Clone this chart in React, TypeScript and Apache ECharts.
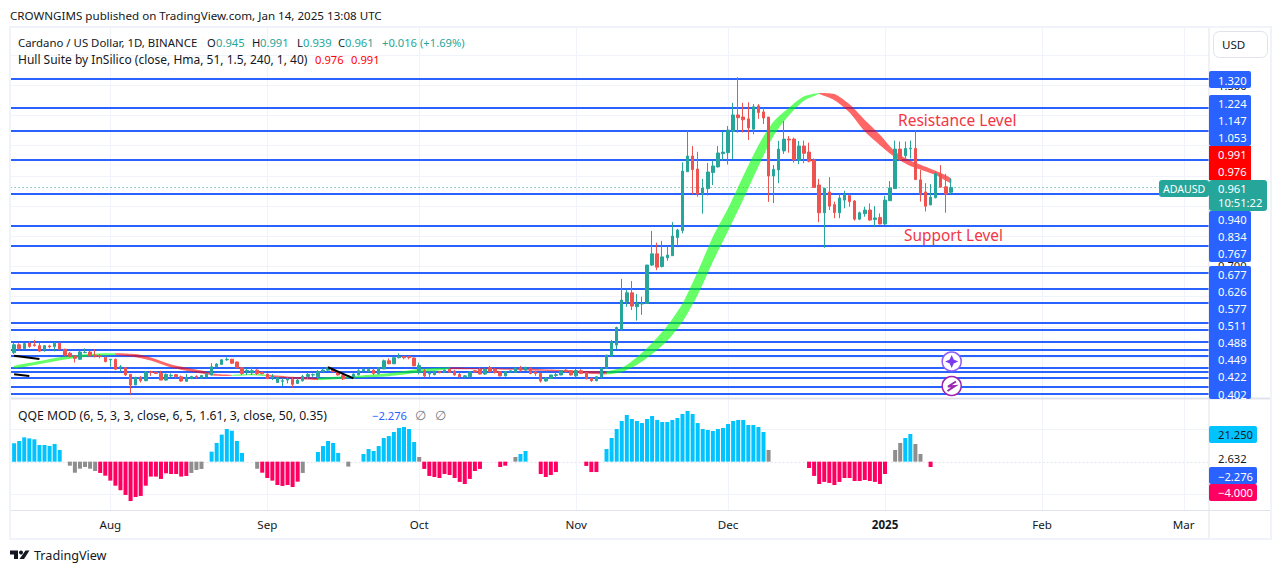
import React, { useEffect, useRef } from "react";
import * as echarts from "echarts";

const FONT = '"Noto Sans", sans-serif';
const NUM = `11.2px ${FONT}`;
const UP = "#26a69a";
const DOWN = "#ef5350";
const BLUE = "#2962ff";

const START = Date.UTC(2024, 6, 13);
const SLOTS = 237;
const categories: string[] = Array.from({ length: SLOTS }, (_, i) =>
  new Date(START + i * 86400000).toISOString().slice(0, 10)
);
const monthTicks: Record<string, string> = {
  "2024-08-01": "Aug",
  "2024-09-01": "Sep",
  "2024-10-01": "Oct",
  "2024-11-01": "Nov",
  "2024-12-01": "Dec",
  "2025-01-01": "2025",
  "2025-02-01": "Feb",
  "2025-03-01": "Mar",
};

// open, close, low, high
const candles: number[][] = [
  [.414,.440,.409,.447],[.440,.427,.425,.445],[.427,.444,.426,.444],[.446,.434,.430,.452],[.440,.437,.434,.456],
  [.437,.419,.417,.447],[.423,.437,.417,.439],[.436,.433,.428,.440],[.434,.445,.418,.448],[.445,.425,.423,.448],
  [.425,.406,.403,.427],[.412,.401,.398,.416],[.401,.395,.381,.406],[.392,.416,.390,.420],[.414,.415,.412,.428],
  [.416,.403,.401,.420],[.406,.402,.398,.425],[.403,.401,.395,.409],[.398,.384,.382,.403],[.390,.392,.367,.392],
  [.392,.359,.356,.394],[.365,.367,.351,.373],[.364,.340,.337,.364],[.342,.307,.276,.342],[.307,.332,.307,.334],
  [.332,.321,.315,.337],[.321,.350,.319,.353],[.351,.348,.337,.354],[.349,.345,.343,.351],[.345,.323,.323,.354],
  [.323,.342,.321,.345],[.337,.339,.332,.345],[.341,.334,.329,.343],[.334,.320,.317,.338],[.319,.332,.317,.343],
  [.328,.335,.326,.337],[.335,.332,.329,.339],[.331,.338,.328,.340],[.333,.344,.332,.345],[.340,.367,.339,.379],
  [.367,.376,.365,.379],[.375,.390,.373,.393],[.390,.392,.387,.398],[.392,.379,.376,.393],[.383,.364,.362,.384],
  [.364,.345,.340,.367],[.353,.355,.340,.362],[.347,.354,.340,.367],[.356,.345,.340,.359],[.349,.344,.342,.351],
  [.343,.328,.326,.345],[.331,.335,.323,.343],[.315,.331,.315,.332],[.319,.321,.303,.329],[.323,.326,.312,.334],
  [.326,.309,.299,.332],[.312,.323,.310,.329],[.321,.335,.318,.340],[.335,.342,.326,.348],[.340,.341,.334,.345],
  [.334,.351,.323,.356],[.352,.356,.350,.361],[.356,.365,.354,.367],[.359,.351,.349,.361],[.351,.340,.338,.353],
  [.338,.327,.323,.343],[.332,.337,.329,.339],[.329,.343,.327,.345],[.340,.354,.339,.359],[.354,.359,.351,.361],
  [.351,.358,.348,.362],[.356,.345,.340,.362],[.344,.364,.342,.366],[.360,.387,.359,.391],[.387,.377,.376,.395],
  [.377,.397,.376,.400],[.397,.400,.395,.412],[.401,.397,.392,.403],[.401,.398,.392,.403],[.396,.370,.370,.398],
  [.348,.371,.342,.381],[.354,.337,.332,.359],[.343,.345,.332,.351],[.341,.352,.339,.354],[.351,.348,.345,.353],
  [.349,.356,.348,.358],[.359,.349,.348,.365],[.353,.340,.338,.356],[.342,.334,.332,.348],[.334,.337,.331,.340],
  [.334,.350,.332,.352],[.354,.350,.348,.356],[.359,.343,.342,.365],[.343,.359,.340,.362],[.364,.351,.349,.370],
  [.359,.348,.345,.362],[.351,.337,.335,.353],[.337,.351,.335,.353],[.351,.354,.348,.356],[.349,.363,.348,.365],
  [.364,.356,.351,.370],[.356,.365,.354,.367],[.362,.345,.342,.365],[.350,.345,.337,.354],[.345,.320,.315,.347],
  [.320,.330,.318,.332],[.328,.340,.327,.340],[.338,.341,.329,.348],[.340,.354,.339,.356],[.356,.351,.348,.362],
  [.354,.340,.338,.356],[.337,.355,.332,.360],[.354,.345,.343,.359],[.348,.327,.326,.349],[.329,.321,.317,.331],
  [.321,.334,.319,.336],[.332,.362,.329,.365],[.362,.406,.362,.406],[.403,.450,.403,.456],[.439,.497,.425,.500],
  [.491,.588,.487,.658],[.583,.612,.566,.623],[.612,.568,.555,.651],[.566,.577,.520,.608],[.575,.577,.539,.599],
  [.577,.704,.575,.704],[.704,.741,.701,.817],[.741,.697,.687,.778],[.699,.731,.696,.784],[.728,.737,.718,.765],
  [.735,.800,.734,.846],[.795,.820,.767,.824],[.818,1.015,.809,1.044],[1.013,1.065,1.013,1.149],[1.065,1.020,.939,1.098],
  [1.022,.939,.930,1.079],[.939,.959,.874,.989],[.957,1.012,.934,1.042],[1.010,1.032,.969,1.050],[1.029,1.075,1.027,1.098],
  [1.073,1.078,1.050,1.146],[1.076,1.151,1.037,1.164],[1.147,1.201,1.055,1.241],[1.201,1.192,1.142,1.326],[1.194,1.185,1.143,1.241],
  [1.188,1.158,1.118,1.243],[1.154,1.228,1.137,1.237],[1.231,1.209,1.188,1.237],[1.211,1.191,1.171,1.225],[1.194,.999,.913,1.194],
  [.999,1.021,.909,1.035],[1.019,1.088,.975,1.115],[1.082,1.121,1.072,1.181],[1.121,1.118,1.076,1.131],[1.121,1.052,1.043,1.126],
  [1.050,1.098,1.038,1.115],[1.098,1.074,1.041,1.116],[1.078,1.048,1.044,1.109],[1.052,.961,.961,1.057],[.969,.877,.846,.989],
  [.877,.958,.761,.960],[.946,.899,.886,.995],[.904,.878,.859,.914],[.877,.926,.859,.939],[.919,.939,.892,.950],
  [.934,.914,.897,.939],[.916,.856,.851,.919],[.856,.877,.853,.881],[.874,.886,.864,.897],[.886,.853,.851,.908],
  [.855,.860,.831,.899],[.861,.840,.839,.875],[.840,.919,.837,.933],[.917,.959,.917,.982],[.957,1.088,.957,1.116],
  [1.088,1.054,1.050,1.113],[1.066,1.090,1.057,1.113],[1.089,1.091,1.057,1.116],[1.090,.987,.987,1.149],[.986,.939,.914,1.019],
  [.946,.899,.881,.975],[.903,.929,.903,.972],[.927,1.007,.925,1.014],[1.005,.962,.960,1.035],[.963,.939,.877,1.006],
  [.945,.961,.939,.991],
];

const priceLevels = [1.32,1.224,1.147,1.053,.94,.834,.767,.677,.626,.577,.511,.488,.449,.422,.402,.363,.35,.33,.3,.277];
const priceGrid = [.3,.4,.5,.6,.7,.8,.9,1.0,1.1,1.2,1.3,1.4];
const lastPrice = 0.961;

const hullIdx =   [0,4,10,15,20,24,27,31,37,40,43,47,50,55,60,67,74,80,86,93,100,107,112,117,120,123,126,129,132,135,138,141,144,147,150,153,156,159,162,165,168,171,174,177,182,185];
const hullUpper = [.370,.383,.401,.410,.412,.409,.398,.375,.355,.343,.340,.343,.340,.334,.330,.337,.346,.360,.365,.362,.361,.357,.353,.351,.364,.399,.446,.503,.577,.682,.798,.892,.999,1.101,1.179,1.225,1.263,1.274,1.270,1.236,1.184,1.135,1.079,1.050,1.016,.991];
const hullLower = [.362,.373,.391,.402,.407,.399,.388,.365,.345,.337,.337,.339,.336,.328,.323,.330,.336,.348,.360,.359,.356,.352,.346,.342,.350,.373,.409,.453,.516,.605,.715,.817,.921,1.030,1.132,1.199,1.248,1.271,1.250,1.209,1.146,1.101,1.061,1.032,1.002,.975];
const hullTrend = "gggg" + "rrrrrr" + "gg" + "rr" + "gggg" + "rrrrr" + "g".repeat(14) + "r".repeat(8);

const blackSegments = [
  { from: "2024-07-13", to: "2024-07-18", a: .4038, b: .3928 },
  { from: "2024-07-13", to: "2024-07-16", a: .3422, b: .3366 },
  { from: "2024-09-13", to: "2024-09-18", a: .3654, b: .3289 },
];

type Block = [string, (number | null)[]];
const qqeBlocks: Block[] = [
  ["b", [14.1,15.9,18.7,17.9,17.2,12.8,12.8,12.1,13.6,9]], ["", [null]],
  ["g", [-3.1,-8.5,-5.4,-4.1,-5.4,-7.2]],
  ["p", [-8.7,-10.8,-14.6,-18.5,-22,-25.6,-30.3,-27.2,-26.4,-18.5,-11.5,-11.5,-13.3,-9,-9.5,-9.5,-11.5,-11]],
  ["g", [-8.7,-6.4,-5.6]], ["", [null]],
  ["b", [7.7,14.4,20.8,25.1,23.8,15.9,6.7]], ["", [null,null]],
  ["g", [-5.4]], ["p", [-8.5,-12.6,-14.6,-18,-18.7,-18,-19.5,-15.4]], ["g", [-8.7]], ["", [null,null]],
  ["b", [7.4,12,15.9,14.4,6.7]], ["", [null]], ["g", [-3.8]], ["", [null,null]],
  ["b", [5.9,9.7,8.2,12,18.2,19.7,22.8,25.9,26.7,25.1,15.1]], ["g", [3.6]],
  ["p", [-5.6,-11,-11.8,-12.6,-9.5,-10.3,-12.6,-15.6,-17.2,-13.3,-7.2,-5.6]], ["", [null,null,null]],
  ["p", [-4.1,-3.1]], ["", [null]], ["g", [3.6]], ["b", [5.9,8.2]], ["", [null,null]],
  ["p", [-9.5,-11.8,-10.3,-8]], ["", [null,null,null,null,null]], ["p", [-3.3,-8,-8]], ["", [null]],
  ["b", [9.7,18.2,25.1,31.3,35.9,32.8,31.3,29.7,32.8,35.1,32.1,30.5,30.5,32.1,33.6,36.7,39,36.7,29.7,25.1,24.4,23.6,25.1,25.9,29,31.3,32.1,32.1,28.2,28.2,26.7,22.8]],
  ["g", [9]], ["", [null,null,null,null,null,null,null]],
  ["p", [-4.9,-11,-17.2,-15.6,-16.4,-18,-15.6,-12.6,-12.6,-14.9,-14.9,-14.1,-14.9,-15.6,-17.2,-9.5]], ["", [null]],
  ["g", [9,14.4]], ["b", [18.2,21.3]], ["g", [13.6,5.9]], ["", [null]], ["p", [-4.1]],
];
const qqeGrid = [25, -25];
const qqeColors: Record<string, string> = { b: "#00c3ff", g: "#8e8e8e", p: "#ff0062" };

const levelLabels: [string, number][] = [
  ["1.320", 80],["1.224", 103.7],["1.147", 120.5],["1.053", 137.7],
  ["0.940", 219.3],["0.834", 236.7],["0.767", 253.3],
  ["0.677", 274.3],["0.626", 291.7],["0.577", 308.7],["0.511", 325.7],["0.488", 342.7],["0.449", 359.3],["0.422", 376.7],["0.402", 394],
];

const text = (s: string, x: number, y: number, fill: string, font = NUM, align = "left", z = 50) => ({
  type: "text", z, silent: true, style: { text: s, x, y, fill, font, textAlign: align, textVerticalAlign: "middle" },
});
const box = (x: number, y: number, w: number, h: number, fill: string, z = 40, r = 0, stroke?: string) => ({
  type: "rect", z, silent: true, shape: { x, y, width: w, height: h, r }, style: { fill, stroke },
});

function buildGraphics() {
  const g: any[] = [
    box(1209, 28, 62, 482, "#ffffff", 30),
    box(1209, 510, 62, 28, "#ffffff", 30),
    // frame and separators
    box(9, 26, 1263, 2, "#f0f3fa", 35), box(9, 26, 2, 514, "#f0f3fa", 35),
    box(1270, 26, 2, 514, "#f0f3fa", 35), box(9, 538, 1263, 2, "#f0f3fa", 35),
    box(1208.5, 28, 1, 510, "#e0e3eb", 35), box(11, 397.5, 1259, 2, "#e0e3eb", 35), box(11, 510, 1259, 1, "#e0e3eb", 35),
    { type: "rect", z: 40, silent: true, shape: { x: 1213.5, y: 31.5, width: 54, height: 26, r: 6 }, style: { fill: "#fff", stroke: "#e0e3eb" } },
    text("USD", 1222, 44.5, "#131722", `11.6px ${FONT}`),
    // header
    text("CROWNGIMS published on TradingView.com, Jan 14, 2025 13:08 UTC", 10, 15, "#131722", `11.6px ${FONT}`),
    text("Cardano / US Dollar, 1D, BINANCE", 18, 42, "#131722", `11.4px ${FONT}`),
    text("O", 207, 42, "#131722"), text("0.945", 216, 42, UP),
    text("H", 252, 42, "#131722"), text("0.991", 260, 42, UP),
    text("L", 297, 42, "#131722"), text("0.939", 303, 42, UP),
    text("C", 338, 42, "#131722"), text("0.961", 345, 42, UP),
    text("+0.016", 382, 42, UP), text("(+1.69%)", 420, 42, UP),
    text("Hull Suite by InSilico (close, Hma, 51, 1.5, 240, 1, 40)", 18, 59, "#131722", `12px ${FONT}`),
    text("0.976", 315, 59, "#ff0000"), text("0.991", 351, 59, "#ff0000"),
    text("QQE MOD (6, 5, 3, 3, close, 6, 5, 1.61, 3, close, 50, 0.35)", 18, 415, "#131722", `12.2px ${FONT}`),
    text("\u22122.276", 372, 415, BLUE), text("\u2205", 415, 415, "#787b86", `13px ${FONT}`), text("\u2205", 435, 415, "#787b86", `13px ${FONT}`),
    // annotations
    text("Resistance Level", 898, 120, "#f23645", `15.5px ${FONT}`),
    text("Support Level", 904, 235, "#f23645", `15.4px ${FONT}`),
    // price axis, hidden scale labels first
    text("1.300", 1218, 85, "#131722", NUM, "left", 36),
    text("0.700", 1218, 265, "#131722", NUM, "left", 36),
    text("25.000", 1218, 429, "#131722", NUM, "left", 36),
    box(1209, 71, 42, 17, BLUE, 40, 2), box(1209, 95, 42, 51, BLUE, 40, 2), box(1209, 211, 42, 51, BLUE, 40, 2), box(1209, 266, 42, 133, BLUE, 40, 2),
    box(1209, 146, 42, 34, "#ff0000", 41),
    box(1209, 180, 58, 31, UP, 42, 3), text("0.961", 1218, 188.5, "#ffffff"),
    text("10:51:22", 1218, 202.5, "#ffffff"),
    box(1159, 180, 50, 17, UP, 42, 3), text("ADAUSD", 1163, 188.5, "#ffffff", `10.6px ${FONT}`),
    text("0.991", 1218, 154.7, "#ffffff"), text("0.976", 1218, 171.7, "#ffffff"),
    // oscillator axis
    box(1209, 426, 48, 17, "#00c3ff", 40, 2), text("21.250", 1218, 434.5, "#131722"),
    text("2.632", 1218, 458.5, "#131722"),
    box(1209, 467, 48, 17, BLUE, 40, 2), text("\u22122.276", 1218, 476, "#ffffff"),
    box(1209, 484, 48, 17, "#ff0062", 41, 2), text("\u22124.000", 1218, 492.5, "#ffffff"),
    // event markers
    { type: "circle", z: 45, silent: true, shape: { cx: 951.7, cy: 361.5, r: 9.5 }, style: { fill: "#ffffff", stroke: "#8e5cf7", lineWidth: 1.5 } },
    { type: "polygon", z: 46, silent: true, shape: { points: [[951.7,355],[953.7,359.5],[958.2,361.5],[953.7,363.5],[951.7,368],[949.7,363.5],[945.2,361.5],[949.7,359.5]] }, style: { fill: "#7c3aed" } },
    { type: "circle", z: 45, silent: true, shape: { cx: 951.7, cy: 386, r: 9.5 }, style: { fill: "#ffffff", stroke: "#9c27b0", lineWidth: 1.5 } },
    { type: "polyline", z: 46, silent: true, shape: { points: [[956,381.5],[948,386.5],[955,386],[947.5,391]] }, style: { fill: "none", stroke: "#9c27b0", lineWidth: 2 } },
    // footer logo
    { type: "polygon", z: 46, silent: true, shape: { points: [[10,550.5],[18,550.5],[18,559],[14,559],[14,554.5],[10,554.5]] }, style: { fill: "#131722" } },
    { type: "circle", z: 46, silent: true, shape: { cx: 21, cy: 552.5, r: 2 }, style: { fill: "#131722" } },
    { type: "polygon", z: 46, silent: true, shape: { points: [[25.5,550.5],[29.5,550.5],[24,559],[19.5,559]] }, style: { fill: "#131722" } },
    text("TradingView", 34, 555, "#131722", `12.6px ${FONT}`),
  ];
  levelLabels.forEach(([s, y]) => g.push(text(s, 1218, y, "#ffffff")));
  return g;
}

const hLines = (stroke: string, dash?: number[]) => (params: any, api: any) => {
  const y = Math.round(api.coord([0, api.value(1)])[1]) + 0.5;
  const c = params.coordSys;
  return { type: "line", shape: { x1: c.x - 1, y1: y, x2: c.x + c.width, y2: y }, style: { stroke, lineWidth: 1, lineDash: dash } };
};
const levelBars = (fill: string) => (params: any, api: any) => {
  const y = Math.round(api.coord([0, api.value(1)])[1]);
  const c = params.coordSys;
  return { type: "rect", shape: { x: 11, y: y - 1, width: c.x + c.width - 11, height: 2 }, style: { fill } };
};
const vLines = (stroke: string) => (params: any, api: any) => {
  const x = Math.round(api.coord([api.value(0), 0])[0]) + 0.5;
  const c = params.coordSys;
  return { type: "line", shape: { x1: x, y1: c.y, x2: x, y2: c.y + c.height }, style: { stroke, lineWidth: 1 } };
};

function buildOption() {
  const qqeData: any[] = [];
  qqeBlocks.forEach(([k, vals]) => vals.forEach((v) => qqeData.push(v === null ? null : { value: v, itemStyle: { color: qqeColors[k] } })));

  const runs: { from: number; to: number; c: string }[] = [];
  for (let k = 0; k < hullIdx.length - 1; k++) {
    const c = hullTrend[k];
    const last = runs[runs.length - 1];
    if (last && last.c === c) last.to = k + 1;
    else runs.push({ from: k, to: k + 1, c });
  }
  const monthNames = Object.keys(monthTicks);
  const monthData = monthNames.map((n) => [categories.indexOf(n), 1]);
  const lineBase = { type: "custom", silent: true, clip: false, encode: { x: 0, y: 1 } };

  return {
    animation: false,
    backgroundColor: "#ffffff",
    graphic: { elements: buildGraphics() },
    grid: [
      { left: 11.6, top: 28, width: 1200, height: 370 },
      { left: 11.6, top: 399, width: 1200, height: 111 },
    ],
    xAxis: [
      { type: "category", gridIndex: 0, data: categories, boundaryGap: true, axisLabel: { show: false }, axisTick: { show: false }, axisLine: { show: false }, splitLine: { show: false } },
      {
        type: "category", gridIndex: 1, data: categories, boundaryGap: true, axisTick: { show: false }, axisLine: { show: false }, splitLine: { show: false },
        axisLabel: {
          interval: (_: number, name: string) => name in monthTicks,
          formatter: (name: string) => (monthTicks[name] === "2025" ? "{b|2025}" : monthTicks[name] || ""),
          color: "#131722", fontFamily: "Noto Sans", fontSize: 11.6, margin: 8,
          rich: { b: { fontWeight: "bold", fontFamily: "Noto Sans", fontSize: 11.6, color: "#131722" } },
        },
      },
    ],
    yAxis: [
      { type: "value", gridIndex: 0, min: 0.2637, max: 1.4889, show: false },
      { type: "value", gridIndex: 1, min: -37.2, max: 48.2, show: false },
    ],
    series: [
      { ...lineBase, z: 0, xAxisIndex: 0, yAxisIndex: 0, data: priceGrid.map((v) => [0, v]), renderItem: hLines("#f0f3fa") },
      { ...lineBase, z: 0, xAxisIndex: 0, yAxisIndex: 0, data: monthData.map(([i]) => [i, 1]), renderItem: vLines("#f0f3fa") },
      { ...lineBase, z: 0, xAxisIndex: 1, yAxisIndex: 1, data: qqeGrid.map((v) => [0, v]), renderItem: hLines("#f0f3fa") },
      { ...lineBase, z: 0, xAxisIndex: 1, yAxisIndex: 1, data: [[0, 0]], renderItem: hLines("#e0e3eb", [2, 2]) },
      { ...lineBase, z: 0, xAxisIndex: 1, yAxisIndex: 1, data: monthData.map(([i]) => [i, 1]), renderItem: vLines("#f0f3fa") },
      { ...lineBase, z: 1, xAxisIndex: 0, yAxisIndex: 0, data: [[0, lastPrice]], renderItem: hLines(UP, [1, 3]) },
      { ...lineBase, z: 1, xAxisIndex: 0, yAxisIndex: 0, data: priceLevels.map((v) => [0, v]), renderItem: levelBars(BLUE) },
      {
        type: "custom", silent: true, z: 2, xAxisIndex: 0, yAxisIndex: 0, clip: false,
        data: runs.map((r) => [hullIdx[r.from], hullUpper[r.from]]),
        encode: { x: 0, y: 1 },
        renderItem: (params: any, api: any) => {
          const r = runs[params.dataIndex];
          const pts: number[][] = [];
          for (let k = r.from; k <= r.to; k++) pts.push(api.coord([hullIdx[k], hullUpper[k]]));
          for (let k = r.to; k >= r.from; k--) pts.push(api.coord([hullIdx[k], hullLower[k]]));
          return { type: "polygon", shape: { points: pts, smooth: 0.25 }, style: { fill: r.c === "g" ? "rgba(0,255,0,0.6)" : "rgba(255,0,0,0.6)" } };
        },
      },
      {
        type: "candlestick", z: 3, xAxisIndex: 0, yAxisIndex: 0, data: candles, barWidth: 3, silent: true,
        itemStyle: { color: UP, color0: DOWN, borderColor: UP, borderColor0: DOWN, borderWidth: 1 },
      },
      ...blackSegments.map((s) => ({
        type: "line", z: 4, xAxisIndex: 0, yAxisIndex: 0, symbol: "none", silent: true,
        data: [[s.from, s.a], [s.to, s.b]], lineStyle: { color: "#000000", width: 2 },
      })),
      { type: "bar", z: 3, xAxisIndex: 1, yAxisIndex: 1, data: qqeData, barWidth: 4, silent: true },
    ],
  };
}

export default function App() {
  const ref = useRef<HTMLDivElement>(null);
  useEffect(() => {
    document.body.style.margin = "0";
    const chart = echarts.init(ref.current!, undefined, { renderer: "svg" });
    chart.setOption(buildOption() as any);
    return () => chart.dispose();
  }, []);
  return <div ref={ref} style={{ position: "absolute", left: 0, top: 0, width: 1281, height: 573 }} />;
}
